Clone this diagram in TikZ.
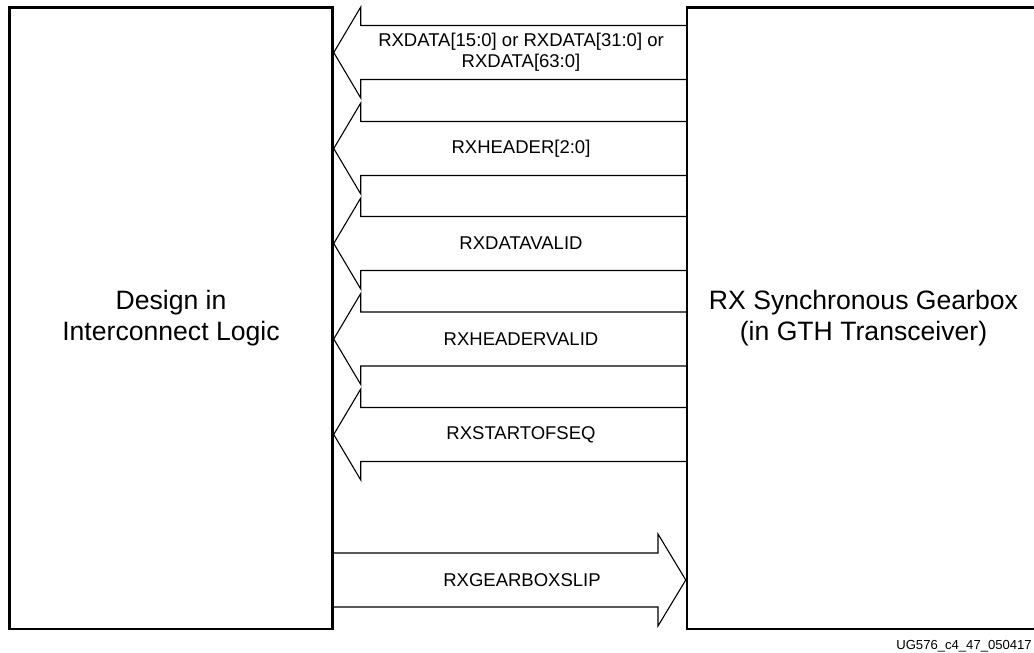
\documentclass[tikz,border=0pt]{standalone}
\usepackage{fontspec}
\setmainfont{Liberation Sans}
\tikzset{
  blockbox/.style={draw,line width=2.5pt,minimum width=323pt,minimum height=621.5pt,inner sep=0pt,align=center,font=\fontsize{26.6}{31}\selectfont},
  sigline/.style={line width=1.1pt},
  siglabel/.style={inner sep=0pt,align=center,font=\fontsize{18.5}{21}\selectfont}
}
\begin{document}
\begin{tikzpicture}[x=1pt,y=-1pt]
\clip (0,0) rectangle (1034,653);
\node[blockbox] (logic) at (171,318.25) {Design in\\Interconnect Logic};
\node[blockbox,minimum width=353pt] (gearbox) at (863.5,318.25) {RX Synchronous Gearbox\\(in GTH Transceiver)};
% gearbox -> logic
\foreach \y/\name/\txt in {52.5/data/{RXDATA[15:0] or RXDATA[31:0] or\\RXDATA[63:0]},
    148.5/header/{RXHEADER[2:0]}, 243.5/datavalid/{RXDATAVALID},
    339/headervalid/{RXHEADERVALID}, 434.5/startofseq/{RXSTARTOFSEQ}} {
  \draw[sigline] (logic.east |- 0,\y) coordinate (tip\name) -- ++(27,-45.5) -- ++(0,18.5) -- (gearbox.west |- 0,\y-27);
  \draw[sigline] (tip\name) -- ++(27,45.5) -- ++(0,-18.5) -- (gearbox.west |- 0,\y+27);
  \node[siglabel] (\name) at (521,\y) {\txt};
}
% logic -> gearbox
\draw[sigline] (logic.east |- 0,553) -- (658,553) -- (658,534) -- (gearbox.west |- 0,580)
  -- (658,626) -- (658,607) -- (logic.east |- 0,607);
\node[siglabel] (slip) at (522,580) {RXGEARBOXSLIP};
\node[anchor=base east,inner sep=0pt,font=\fontsize{13.1}{15}\selectfont] (figid) at (1032,649) {UG576\_c4\_47\_050417};
\end{tikzpicture}
\end{document}
